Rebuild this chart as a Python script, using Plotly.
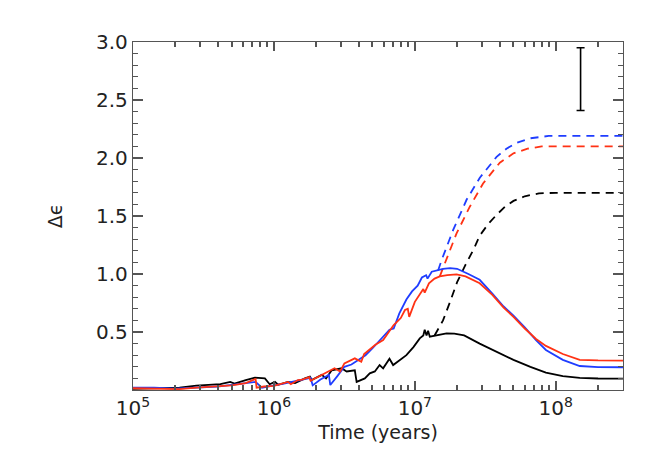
import numpy as np
import plotly.graph_objects as go

# log10(time / years) and delta-epsilon
logt_black = [5.00, 5.20, 5.33, 5.45, 5.55, 5.62, 5.69, 5.72, 5.80, 5.865, 5.936, 5.97,
              6.007, 6.03, 6.10, 6.15, 6.22, 6.255, 6.267, 6.34, 6.37, 6.41, 6.48,
              6.516, 6.574, 6.587, 6.645, 6.68, 6.716, 6.75, 6.775, 6.82, 6.846,
              6.894, 6.94, 6.99, 7.035, 7.06, 7.07, 7.083, 7.094, 7.106, 7.13, 7.18,
              7.225, 7.28, 7.35, 7.46, 7.58, 7.70, 7.82, 7.93, 8.05, 8.17, 8.30, 8.477]
eps_black = [0.010, 0.015, 0.020, 0.037, 0.045, 0.050, 0.070, 0.055, 0.085, 0.106, 0.100, 0.050,
             0.070, 0.045, 0.070, 0.060, 0.100, 0.115, 0.086, 0.130, 0.100, 0.170, 0.187,
             0.160, 0.170, 0.070, 0.100, 0.144, 0.160, 0.215, 0.187, 0.270, 0.215,
             0.260, 0.300, 0.370, 0.445, 0.470, 0.520, 0.470, 0.510, 0.460, 0.465, 0.482,
             0.489, 0.486, 0.470, 0.400, 0.330, 0.260, 0.200, 0.150, 0.120, 0.105, 0.099, 0.098]

logt_blue = [5.00, 5.15, 5.30, 5.45, 5.60, 5.70, 5.80, 5.87, 5.915, 5.95, 6.00, 6.07,
             6.15, 6.22, 6.26, 6.275, 6.33, 6.39, 6.40, 6.45, 6.50, 6.55, 6.60, 6.65,
             6.70, 6.76, 6.82, 6.85, 6.89, 6.94, 6.98, 7.02, 7.05, 7.08, 7.09, 7.12,
             7.15, 7.20, 7.25, 7.30, 7.38, 7.46, 7.55, 7.63, 7.70, 7.78, 7.86, 7.93,
             8.05, 8.17, 8.30, 8.477]
eps_blue = [0.020, 0.020, 0.012, 0.020, 0.030, 0.045, 0.060, 0.070, 0.020, 0.030, 0.040, 0.055,
            0.075, 0.090, 0.105, 0.040, 0.090, 0.130, 0.043, 0.120, 0.200, 0.220, 0.260, 0.300,
            0.360, 0.440, 0.520, 0.530, 0.660, 0.780, 0.850, 0.900, 0.970, 0.990, 0.960, 1.020,
            1.030, 1.045, 1.050, 1.045, 1.000, 0.950, 0.830, 0.720, 0.640, 0.540, 0.430, 0.345,
            0.260, 0.207, 0.198, 0.196]

logt_red = [5.00, 5.20, 5.33, 5.45, 5.60, 5.70, 5.80, 5.87, 5.877, 5.93, 6.00, 6.05,
            6.10, 6.12, 6.17, 6.20, 6.25, 6.26, 6.34, 6.43, 6.47, 6.50, 6.574, 6.62,
            6.64, 6.72, 6.775, 6.85, 6.90, 6.93, 6.95, 6.96, 7.00, 7.03, 7.06, 7.07,
            7.10, 7.14, 7.177, 7.23, 7.296, 7.36, 7.46, 7.55, 7.63, 7.70, 7.78, 7.86,
            7.93, 8.05, 8.17, 8.30, 8.477]
eps_red = [0.015, 0.010, 0.008, 0.020, 0.030, 0.040, 0.060, 0.095, 0.020, 0.030, 0.035, 0.050,
           0.070, 0.050, 0.086, 0.090, 0.110, 0.080, 0.130, 0.187, 0.160, 0.230, 0.273, 0.244,
           0.310, 0.390, 0.430, 0.560, 0.620, 0.690, 0.700, 0.630, 0.760, 0.820, 0.870, 0.840,
           0.920, 0.960, 0.980, 0.990, 0.997, 0.980, 0.920, 0.820, 0.710, 0.630, 0.530, 0.440,
           0.380, 0.310, 0.260, 0.255, 0.253]

# dashed continuations
logt_black_d = [7.14, 7.20, 7.25, 7.30, 7.36, 7.42, 7.46, 7.52, 7.58, 7.64, 7.70, 7.78, 7.88, 8.00, 8.477]
eps_black_d = [0.47, 0.60, 0.76, 0.93, 1.08, 1.22, 1.33, 1.43, 1.51, 1.58, 1.63, 1.67, 1.695, 1.70, 1.70]

logt_blue_d = [7.165, 7.19, 7.272, 7.367, 7.461, 7.58, 7.65, 7.72, 7.82, 7.95, 8.10, 8.477]
eps_blue_d = [1.03, 1.12, 1.38, 1.64, 1.83, 2.01, 2.08, 2.13, 2.17, 2.19, 2.19, 2.19]

logt_red_d = [7.177, 7.213, 7.296, 7.39, 7.484, 7.55, 7.603, 7.70, 7.80, 7.90, 8.477]
eps_red_d = [0.98, 1.09, 1.35, 1.58, 1.78, 1.88, 1.96, 2.04, 2.08, 2.10, 2.10]

# typical error bar
err_t = [1.5e8]
err_y = [2.68]
err_half = [0.27]

# axis ticks
x_major = [1e5, 1e6, 1e7, 1e8]
x_major_text = ["10<sup>5</sup>", "10<sup>6</sup>", "10<sup>7</sup>", "10<sup>8</sup>"]
x_minor = [m * d for d in [1e5, 1e6, 1e7, 1e8] for m in range(2, 10)]
y_major = [0.5, 1.0, 1.5, 2.0, 2.5, 3.0]
y_major_text = ["0.5", "1.0", "1.5", "2.0", "2.5", "3.0"]

BLUE = "#1f3dff"
RED = "#ff3214"
BLACK = "#000000"
FONT = "DejaVu Sans"
axis_col = "#555555"
x_range = [5, np.log10(3.0e8)]

fig = go.Figure()

curves = [
    (logt_black_d, eps_black_d, BLACK, "dash"),
    (logt_red_d, eps_red_d, RED, "dash"),
    (logt_blue_d, eps_blue_d, BLUE, "dash"),
    (logt_black, eps_black, BLACK, "solid"),
    (logt_blue, eps_blue, BLUE, "solid"),
    (logt_red, eps_red, RED, "solid"),
]
for lt, ev, col, dash in curves:
    fig.add_trace(go.Scatter(
        x=10 ** np.array(lt), y=ev, mode="lines",
        line=dict(color=col, width=1.8, dash="8px,6px" if dash == "dash" else "solid"),
        showlegend=False, hoverinfo="skip"))

fig.add_trace(go.Scatter(
    x=err_t, y=err_y, mode="markers", marker=dict(size=1, color=BLACK),
    error_y=dict(type="data", array=err_half, color=BLACK, thickness=1.6, width=4),
    showlegend=False))

fig.update_layout(
    width=664, height=475,
    margin=dict(l=125, r=49, t=34, b=93),
    plot_bgcolor="white", paper_bgcolor="white",
    font=dict(family=FONT, color="#222222", size=18),
    xaxis=dict(
        type="log", range=x_range,
        tickmode="array", tickvals=x_major, ticktext=x_major_text,
        ticks="inside", ticklen=9, tickwidth=1.8, tickcolor=axis_col,
        minor=dict(tickmode="array", tickvals=x_minor, ticks="inside", ticklen=5,
                   tickwidth=1.6, tickcolor=axis_col, showgrid=False),
        showline=True, linecolor=axis_col, linewidth=1.3, mirror="ticks",
        showgrid=False, zeroline=False, tickfont=dict(size=20),
        title=dict(text="Time (years)", font=dict(size=19), standoff=6),
    ),
    yaxis=dict(
        range=[0, 3.0],
        tickmode="array", tickvals=y_major, ticktext=y_major_text,
        ticks="inside", ticklen=10, tickwidth=1.5, tickcolor=axis_col,
        minor=dict(ticks="inside", ticklen=5, dtick=0.1, tick0=0, tickwidth=1.4,
                   tickcolor=axis_col, showgrid=False),
        showline=True, linecolor=axis_col, linewidth=1.3, mirror="ticks",
        showgrid=False, zeroline=False, tickfont=dict(size=20),
        title=dict(text="Δϵ", font=dict(size=19), standoff=28),
    ),
)

fig.write_html("out.html")
